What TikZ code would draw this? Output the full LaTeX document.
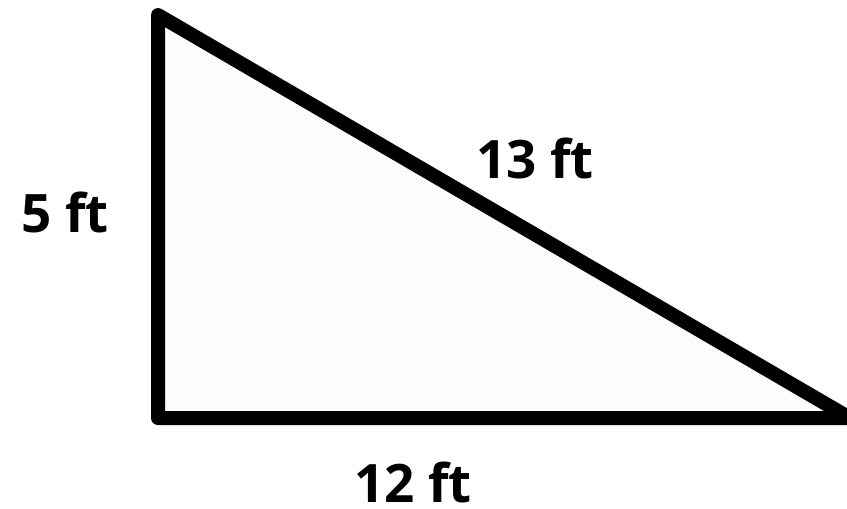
\documentclass[tikz,border=0pt]{standalone}
\usepackage{fontspec}
\setmainfont{Open Sans}
\usepackage{tikz}
\usetikzlibrary{positioning}
\definecolor{paper}{RGB}{251,252,252}

\begin{document}
\begin{tikzpicture}[
  x=1pt, y=-1pt,
  side/.style={draw=black, line width=14pt, line join=round, fill=paper},
  len/.style={font=\fontsize{53}{60}\selectfont\bfseries, inner sep=0pt}
]
  \useasboundingbox (0,0) rectangle (847,509);

  \coordinate (top) at (158,15);
  \coordinate (corner) at (158,418);
  \coordinate (tip) at (850,418);

  \draw[side] (top) -- (corner) -- (tip) -- cycle;

  \node[len] (left) at (65,212) {5 ft};
  \node[len] (hyp) at (535,158) {13 ft};
  \node[len] (base) at (413,482) {12 ft};
\end{tikzpicture}
\end{document}
